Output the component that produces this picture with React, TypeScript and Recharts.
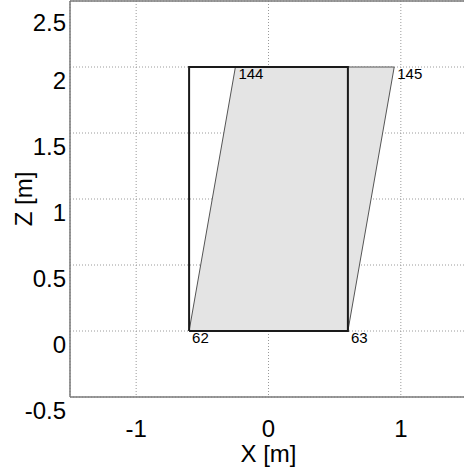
import React from 'react';
import {
  ComposedChart, XAxis, YAxis, CartesianGrid, Area, Scatter, ReferenceLine, Label,
} from 'recharts';

// ----- data -----
const xTicks = [-1, 0, 1];
const zTicks = [-0.5, 0, 0.5, 1, 1.5, 2, 2.5];
const xDomain = [-1.5, 1.5];
const zDomain = [-0.5, 2.5];

// undeformed element outline (black)
const rectX = [-0.6, 0.6, 0.6, -0.6, -0.6];
const rectZ = [0, 0, 2, 2, 0];

// deformed element outline (gray, filled)
const paraX = [-0.6, 0.6, 0.95, -0.25, -0.6];
const paraZ = [0, 0, 2, 2, 0];

// fill of deformed element as a range band
const fillX = [-0.6, -0.25, 0.6, 0.95];
const fillLow = [0, 0, 0, 2];
const fillHigh = [0, 2, 2, 2];

// node labels
const nodeIds = ['62', '63', '145', '144'];
const nodeX = [-0.6, 0.6, 0.95, -0.25];
const nodeZ = [0, 0, 2, 2];

const rectData = rectX.map((x, i) => ({ x, z: rectZ[i] }));
const paraData = paraX.map((x, i) => ({ x, z: paraZ[i] }));
const fillData = fillX.map((x, i) => ({ x, band: [fillLow[i], fillHigh[i]] }));
const nodeData = nodeX.map((x, i) => ({ x, z: nodeZ[i], id: nodeIds[i] }));

const FONT = '"Liberation Sans", Arial, Helvetica, sans-serif';

const YTick = (props: any) => {
  const { x, y, payload } = props;
  return (
    <text x={x} y={y + 22} textAnchor="end" fontFamily={FONT} fontSize={24} fill="#000">
      {payload.value}
    </text>
  );
};

const XTick = (props: any) => {
  const { x, y, payload } = props;
  return (
    <text x={x} y={y + 40} textAnchor="middle" fontFamily={FONT} fontSize={24} fill="#000">
      {payload.value}
    </text>
  );
};

const NodeLabel = (props: any) => {
  const { cx, cy, payload } = props;
  return (
    <text x={cx + 3} y={cy + 12} fontFamily={FONT} fontSize={15} fill="#000">
      {payload.id}
    </text>
  );
};

const NoShape = () => <g />;

export default function App() {
  return (
    <div style={{ position: 'absolute', left: 0, top: 0, width: 464, height: 475, overflow: 'hidden', background: '#fff' }}>
      <ComposedChart
        width={470}
        height={475}
        margin={{ top: 1, right: 3, bottom: 0, left: 0 }}
      >
        <CartesianGrid stroke="#9a9a9a" strokeDasharray="1 2" />
        <XAxis
          type="number"
          dataKey="x"
          domain={xDomain}
          ticks={xTicks}
          allowDataOverflow
          height={78}
          tickLine={false}
          tickSize={0}
          tickMargin={0}
          axisLine={{ stroke: '#7a7a7a', strokeWidth: 1.5 }}
          tick={<XTick />}
        >
          <Label
            content={(p: any) => {
              const vb = p.viewBox;
              return (
                <text x={vb.x + vb.width / 2} y={462} textAnchor="middle" fontFamily={FONT} fontSize={24} fill="#000">
                  X [m]
                </text>
              );
            }}
          />
        </XAxis>
        <YAxis
          type="number"
          dataKey="z"
          domain={zDomain}
          ticks={zTicks}
          allowDataOverflow
          width={70}
          tickLine={false}
          tickSize={0}
          tickMargin={4}
          axisLine={{ stroke: '#7a7a7a', strokeWidth: 1.5 }}
          tick={<YTick />}
        >
          <Label
            content={(p: any) => {
              const vb = p.viewBox;
              const cy = vb.y + vb.height / 2;
              return (
                <text
                  x={32}
                  y={cy}
                  transform={`rotate(-90, 32, ${cy})`}
                  textAnchor="middle"
                  fontFamily={FONT}
                  fontSize={24}
                  fill="#000"
                >
                  Z [m]
                </text>
              );
            }}
          />
        </YAxis>
        <ReferenceLine y={2.5} stroke="#7a7a7a" strokeWidth={1.5} ifOverflow="extendDomain" />
        <Area
          data={fillData}
          dataKey="band"
          type="linear"
          fill="#e4e4e4"
          fillOpacity={1}
          stroke="none"
          isAnimationActive={false}
          dot={false}
          activeDot={false}
        />
        <Scatter
          data={paraData}
          dataKey="z"
          line={{ stroke: '#555', strokeWidth: 1 }}
          lineType="joint"
          shape={NoShape}
          isAnimationActive={false}
        />
        <Scatter
          data={rectData}
          dataKey="z"
          line={{ stroke: '#1a1a1a', strokeWidth: 2 }}
          lineType="joint"
          shape={NoShape}
          isAnimationActive={false}
        />
        <Scatter
          data={nodeData}
          dataKey="z"
          shape={NodeLabel}
          isAnimationActive={false}
        />
      </ComposedChart>
    </div>
  );
}
